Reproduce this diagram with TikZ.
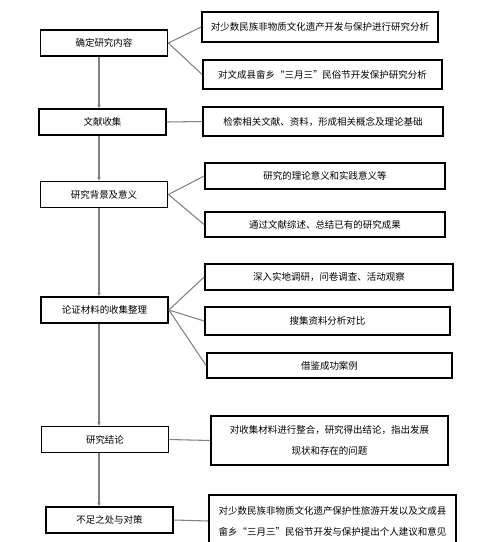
\documentclass[tikz,border=0pt]{standalone}
\usepackage{fontspec}
\newfontfamily\cjk{Noto Sans CJK SC}
\usetikzlibrary{arrows.meta}

\tikzset{
  stagebox/.style={draw=black,line width=1pt,minimum width=2.54cm,minimum height=0.52cm,inner sep=0pt,
    font=\cjk\fontsize{5.4}{12}\selectfont},
  notebox/.style={draw=black,line width=1pt,inner sep=0pt,align=center,
    font=\cjk\fontsize{5.4}{12}\selectfont},
  link/.style={draw=black!50,line width=0.6pt},
  flow/.style={link,-{Stealth[length=2pt,width=2pt]}}
}

\begin{document}
\begin{tikzpicture}[x=0.02cm,y=-0.02cm]
    \useasboundingbox (0,0) rectangle (500,542);
    \coordinate (spine) at (99,0);

    \node[stagebox] (content) at (104,43) {确定研究内容};
    \node[stagebox] (literature) at (102.5,122) {文献收集};
    \node[stagebox] (background) at (104,194.5) {研究背景及意义};
    \node[stagebox] (material) at (104.5,310) {论证材料的收集整理};
    \node[stagebox] (conclusion) at (105,439.5) {研究结论};
    \node[stagebox] (shortage) at (109.5,520) {不足之处与对策};

    \node[notebox,minimum width=4.72cm,minimum height=0.6cm] (contentA) at (320,27)
      {对少数民族非物质文化遗产开发与保护进行研究分析};
    \node[notebox,minimum width=4.78cm,minimum height=0.58cm] (contentB) at (322.5,74.5)
      {对文成县畲乡“三月三”民俗节开发保护研究分析};
    \node[notebox,minimum width=4.8cm,minimum height=0.58cm] (literatureA) at (323,121.5)
      {检索相关文献、资料，形成相关概念及理论基础};
    \node[notebox,minimum width=4.8cm,minimum height=0.52cm] (backgroundA) at (325,176)
      {研究的理论意义和实践意义等};
    \node[notebox,minimum width=4.8cm,minimum height=0.5cm] (backgroundB) at (325,224.5)
      {通过文献综述、总结已有的研究成果};
    \node[notebox,minimum width=4.96cm,minimum height=0.52cm] (materialA) at (329,277)
      {深入实地调研，问卷调查、活动观察};
    \node[notebox,minimum width=4.9cm,minimum height=0.56cm] (materialB) at (327.5,321)
      {搜集资料分析对比};
    \node[notebox,minimum width=4.9cm,minimum height=0.5cm] (materialC) at (329.5,365.5)
      {借鉴成功案例};
    \node[notebox,minimum width=4.74cm,minimum height=0.98cm] (conclusionA) at (329.5,440.5)
      {对收集材料进行整合，研究得出结论，指出发展\\现状和存在的问题};
    \node[notebox,minimum width=4.94cm,minimum height=1.04cm] (shortageA) at (332.5,521)
      {对少数民族非物质文化遗产保护性旅游开发以及文成县\\畲乡“三月三”民俗节开发与保护提出个人建议和意见};

    \foreach \a/\b in {content/literature,literature/background,background/material,
      material/conclusion,conclusion/shortage}
      \draw[flow] (\a.south -| spine) -- (\b.north -| spine);

    \foreach \a/\b in {content/contentA,content/contentB,literature/literatureA,
      background/backgroundA,background/backgroundB,material/materialA,
      material/materialB,material/materialC,conclusion/conclusionA,shortage/shortageA}
      \draw[link] (\a.east) -- (\b.west);
\end{tikzpicture}
\end{document}
